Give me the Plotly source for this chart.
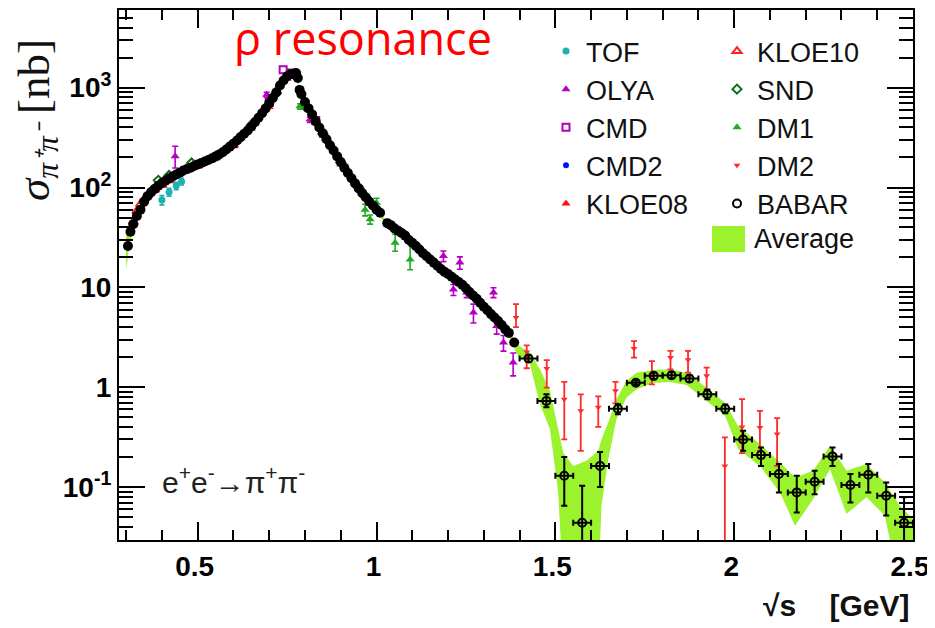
import plotly.graph_objects as go

# ---------------- data ----------------
# BABAR, dense region (sqrt(s) in GeV, sigma in nb)
babar_dense_x = [0.305, 0.312, 0.32, 0.33, 0.34, 0.35, 0.36, 0.37, 0.38, 0.39, 0.40, 0.41, 0.42, 0.43, 0.44,
                 0.45, 0.46, 0.47, 0.48, 0.49, 0.50, 0.51, 0.52, 0.53, 0.54, 0.55, 0.56, 0.57, 0.58, 0.59,
                 0.60, 0.61, 0.62, 0.63, 0.64, 0.65, 0.66, 0.67, 0.68, 0.69, 0.70, 0.71, 0.72, 0.73, 0.74,
                 0.75, 0.76, 0.77, 0.775, 0.78, 0.785, 0.79, 0.80, 0.81, 0.82, 0.83, 0.84, 0.85, 0.86, 0.87,
                 0.88, 0.89, 0.90, 0.91, 0.92, 0.93, 0.94, 0.95, 0.96, 0.97, 0.98, 0.99, 1.00, 1.01,
                 1.03, 1.04, 1.05, 1.06, 1.07, 1.08, 1.09, 1.10, 1.11, 1.12, 1.13, 1.14, 1.15, 1.16, 1.17,
                 1.18, 1.19, 1.20, 1.21, 1.22, 1.23, 1.24, 1.25, 1.26, 1.27, 1.28, 1.29, 1.30, 1.31, 1.32,
                 1.33, 1.34, 1.35, 1.36, 1.37, 1.385]
babar_dense_y = [26, 36, 43, 52, 60, 72, 82, 90, 97, 104, 111, 117, 123, 129, 135,
                 141, 148, 153, 158, 164, 170, 176, 182, 189, 196, 205, 214, 226, 240, 257,
                 275, 296, 320, 345, 372, 408, 450, 500, 555, 620, 700, 790, 900, 1050, 1180,
                 1300, 1360, 1380, 1400, 1250, 950, 860, 720, 620, 540, 460, 400, 350, 305, 265,
                 235, 205, 180, 158, 140, 124, 110, 98, 88, 80, 72, 66, 60, 56,
                 44, 42, 39, 37, 35, 33, 30, 28, 26, 24, 22, 20.5, 19, 17.7, 16.5,
                 15.3, 14.3, 13.6, 12.8, 12.0, 11.3, 10.6, 9.8, 9.0, 8.3, 7.7, 7.0, 6.4, 5.9, 5.4,
                 5.0, 4.6, 4.2, 3.8, 3.5, 2.8]

# BABAR, high-energy points with errors
babar_x = [1.425, 1.475, 1.525, 1.575, 1.625, 1.675, 1.725, 1.775, 1.825, 1.875, 1.925,
           1.975, 2.025, 2.075, 2.125, 2.175, 2.225, 2.275, 2.325, 2.375, 2.425, 2.475]
babar_y = [1.94, 0.73, 0.13, 0.044, 0.163, 0.61, 1.11, 1.30, 1.32, 1.22, 0.85,
           0.61, 0.30, 0.209, 0.135, 0.0885, 0.113, 0.203, 0.105, 0.133, 0.082, 0.044]
babar_up = [0.15, 0.12, 0.07, 0.059, 0.061, 0.066, 0.06, 0.10, 0.09, 0.09, 0.10,
            0.06, 0.066, 0.04, 0.035, 0.041, 0.033, 0.046, 0.03, 0.037, 0.029, 0.035]
babar_dn = [0.15, 0.10, 0.065, 0.043, 0.063, 0.073, 0.06, 0.10, 0.09, 0.09, 0.09,
            0.06, 0.069, 0.046, 0.047, 0.033, 0.028, 0.04, 0.035, 0.045, 0.03, 0.03]
babar_xerr = [0.025] * len(babar_x)

# DM2
dm2_x = [1.39, 1.42, 1.476, 1.525, 1.571, 1.62, 1.668, 1.72, 1.77, 1.822, 1.871, 1.923, 1.974, 2.022, 2.072, 2.12]
dm2_y = [5.0, 2.25, 1.54, 0.76, 0.58, 0.63, 0.92, 2.44, 1.35, 1.98, 1.88, 1.30, 0.163, 0.40, 0.395, 0.34]
dm2_up = [1.8, 0.38, 0.33, 0.37, 0.27, 0.18, 0.21, 0.46, 0.48, 0.33, 0.43, 0.27, 0.151, 0.36, 0.185, 0.15]
dm2_dn = [1.0, 0.70, 0.55, 0.46, 0.35, 0.23, 0.23, 0.46, 0.28, 0.47, 0.48, 0.36, 0.1629, 0.181, 0.165, 0.177]

# TOF
tof_x = [0.40, 0.42, 0.44, 0.455]
tof_y = [75, 90, 104, 115]
tof_err = [8, 8, 9, 9]

# OLYA
olya_x = [0.437, 0.660, 0.693, 0.814, 1.187, 1.215, 1.233, 1.252, 1.271, 1.327, 1.336, 1.355, 1.382]
olya_y = [206, 460, 851, 479, 20.6, 9.5, 17.7, 8.9, 5.6, 8.9, 4.1, 2.8, 1.77]
olya_up = [53, 30, 50, 30, 2.5, 1.2, 2.5, 1.0, 1.2, 1.0, 0.7, 0.5, 0.43]
olya_dn = [49, 30, 50, 30, 2.5, 1.2, 2.5, 1.0, 1.2, 1.0, 0.7, 0.5, 0.47]

# CMD
cmd_x = [0.70, 0.739, 0.76, 0.83]
cmd_y = [710, 1510, 1400, 470]

# CMD2
cmd2_x = [0.37, 0.60, 0.85, 1.05, 1.10, 1.15, 1.20, 1.25, 1.30, 1.336, 1.364]
cmd2_y = [93, 272, 350, 39, 27, 19.5, 13.6, 9.6, 6.4, 4.8, 3.5]

# KLOE08
kloe08_x = [0.60, 0.65, 0.70, 0.75, 0.80, 0.85, 0.90, 0.95]
kloe08_y = [260, 390, 640, 1230, 690, 330, 170, 100]

# KLOE10
kloe10_x = [0.32, 0.33, 0.34, 0.35, 0.36, 0.38, 0.40, 0.42, 0.45, 0.50, 0.55, 0.60]
kloe10_y = [45, 58, 68, 76, 84, 95, 106, 118, 140, 165, 200, 265]

# SND
snd_x = [0.39, 0.42, 0.483, 0.55, 0.65, 0.72, 0.80, 0.85, 0.90, 0.95, 0.97]
snd_y = [118, 132, 176, 205, 420, 880, 650, 345, 178, 100, 80]

# DM1
dm1_x = [0.786, 0.968, 0.982, 1.0, 1.052, 1.094]
dm1_y = [650, 60, 48, 70, 28, 19]
dm1_up = [40, 8, 5, 8, 6, 8]
dm1_dn = [40, 8, 5, 8, 5, 4]

# Average band (upper / lower edge)
avg_x = [0.30, 0.31, 0.33, 0.36, 0.40, 0.50, 0.60, 0.70, 0.76, 0.775, 0.785, 0.80, 0.90, 1.00, 1.02,
         1.04, 1.10, 1.20, 1.30, 1.37, 1.392, 1.429, 1.457, 1.485, 1.508, 1.522, 1.550, 1.587, 1.620,
         1.629, 1.648, 1.671, 1.699, 1.727, 1.774, 1.820, 1.867, 1.923, 1.974, 2.011, 2.072, 2.128,
         2.170, 2.221, 2.268, 2.314, 2.370, 2.421, 2.463, 2.500]
avg_hi = [34, 40, 55, 84, 115, 175, 280, 720, 1380, 1420, 980, 740, 185, 62, 50,
          44, 29, 14.3, 6.7, 3.8, 2.69, 2.22, 1.51, 0.92, 0.38, 0.222, 0.163, 0.183, 0.231,
          0.30, 0.443, 0.76, 1.16, 1.40, 1.49, 1.51, 1.40, 0.99, 0.70, 0.41, 0.27, 0.177,
          0.125, 0.146, 0.259, 0.146, 0.170, 0.111, 0.065, 0.048]
avg_lo = [15, 28, 47, 78, 106, 165, 268, 680, 1320, 1360, 900, 700, 175, 58, 46,
          40, 27, 13.0, 6.1, 3.3, 2.14, 1.70, 0.676, 0.38, 0.0885, 0.01, 0.01, 0.01, 0.01,
          0.065, 0.19, 0.48, 0.79, 0.955, 1.10, 1.13, 1.05, 0.73, 0.52, 0.24, 0.163, 0.0885,
          0.041, 0.076, 0.151, 0.054, 0.079, 0.052, 0.01, 0.01]

# tick labels
x_ticks = [0.5, 1.0, 1.5, 2.0, 2.5]
x_ticktext = ["0.5", "1", "1.5", "2", "2.5"]
y_ticks = [0.1, 1, 10, 100, 1000]
y_ticktext = ["10<sup>-1</sup>", "1", "10", "10<sup>2</sup>", "10<sup>3</sup>"]

# ---------------- figure ----------------
OFF = 8                      # page body margin of the html page
W, H = 935 - OFF, 628 - OFF
L, R, T, B = 119 - OFF, 22, 10 - OFF, 88
PW, PH = W - L - R, H - T - B


def px(xr):                  # reference-image x pixel -> paper x
    return (xr - OFF - L) / PW


def py(yr):                  # reference-image y pixel -> paper y
    return (H - B - (yr - OFF)) / PH


fig = go.Figure()

AVG_COL = "#9cf22c"
fig.add_trace(go.Scatter(
    x=avg_x + avg_x[::-1], y=avg_hi + avg_lo[::-1], fill="toself", fillcolor=AVG_COL,
    mode="lines", line=dict(width=0, color=AVG_COL), name="Average",
    showlegend=False, hoverinfo="skip"))

fig.add_trace(go.Scatter(x=tof_x, y=tof_y, mode="markers", name="TOF",
                         marker=dict(symbol="circle", size=7, color="#1fb0b0"),
                         error_y=dict(type="data", array=tof_err, thickness=1.6, width=2.5, color="#1fb0b0"),
                         legend="legend", legendrank=1))
fig.add_trace(go.Scatter(x=olya_x, y=olya_y, mode="markers", name="OLYA",
                         marker=dict(symbol="triangle-up", size=8, color="#b400c0"),
                         error_y=dict(type="data", symmetric=False, array=olya_up, arrayminus=olya_dn,
                                      thickness=1.6, width=3, color="#b400c0"),
                         legend="legend", legendrank=2))
fig.add_trace(go.Scatter(x=cmd_x, y=cmd_y, mode="markers", name="CMD",
                         marker=dict(symbol="square-open", size=7, color="#b000b8", line=dict(width=2)),
                         legend="legend", legendrank=3))
fig.add_trace(go.Scatter(x=cmd2_x, y=cmd2_y, mode="markers", name="CMD2",
                         marker=dict(symbol="circle", size=6, color="#0010ff"),
                         legend="legend", legendrank=4))
fig.add_trace(go.Scatter(x=kloe08_x, y=kloe08_y, mode="markers", name="KLOE08",
                         marker=dict(symbol="triangle-up", size=8, color="#ff1010"),
                         legend="legend", legendrank=5))
fig.add_trace(go.Scatter(x=kloe10_x, y=kloe10_y, mode="markers", name="KLOE10",
                         marker=dict(symbol="triangle-up-open", size=8, color="#ff2020", line=dict(width=2)),
                         legend="legend2", legendrank=1))
fig.add_trace(go.Scatter(x=snd_x, y=snd_y, mode="markers", name="SND",
                         marker=dict(symbol="diamond-open", size=7, color="#0b6a1a", line=dict(width=2)),
                         legend="legend2", legendrank=2))
fig.add_trace(go.Scatter(x=dm1_x, y=dm1_y, mode="markers", name="DM1",
                         marker=dict(symbol="triangle-up", size=8, color="#22aa22"),
                         error_y=dict(type="data", symmetric=False, array=dm1_up, arrayminus=dm1_dn,
                                      thickness=1.6, width=3, color="#22aa22"),
                         legend="legend2", legendrank=3))
fig.add_trace(go.Scatter(x=dm2_x, y=dm2_y, mode="markers", name="DM2",
                         marker=dict(symbol="triangle-down", size=6, color="#ff2a2a"),
                         error_y=dict(type="data", symmetric=False, array=dm2_up, arrayminus=dm2_dn,
                                      thickness=1.8, width=3, color="#ff2a2a"),
                         legend="legend2", legendrank=4))
fig.add_trace(go.Scatter(x=babar_dense_x, y=babar_dense_y, mode="markers", name="BABAR",
                         marker=dict(symbol="circle", size=10, color="#000000"),
                         showlegend=False, legend="legend2"))
fig.add_trace(go.Scatter(x=babar_x, y=babar_y, mode="markers", name="BABAR",
                         marker=dict(symbol="circle-open", size=8, color="#000000", line=dict(width=2)),
                         error_y=dict(type="data", symmetric=False, array=babar_up, arrayminus=babar_dn,
                                      thickness=2, width=3, color="#000000"),
                         error_x=dict(type="data", array=babar_xerr, thickness=2, width=3, color="#000000"),
                         legend="legend2", legendrank=5))

tickfont = dict(family="Liberation Sans", size=28, color="#000000", weight="bold")

fig.update_xaxes(
    type="linear", range=[0.28, 2.5], showline=True, linewidth=2, linecolor="black", mirror="ticks",
    ticks="inside", ticklen=18, tickwidth=2, tickcolor="black", ticklabelshift=-3,
    tickvals=x_ticks, ticktext=x_ticktext, tickfont=tickfont, showgrid=False, zeroline=False,
    minor=dict(ticks="inside", ticklen=10, tickwidth=2, tickcolor="black", showgrid=False,
               tickvals=[0.3, 0.4, 0.6, 0.7, 0.8, 0.9, 1.1, 1.2, 1.3, 1.4, 1.6, 1.7, 1.8, 1.9,
                         2.1, 2.2, 2.3, 2.4]),
)
yminor = [k * 10.0 ** d for d in range(-2, 4) for k in range(2, 10)]
fig.update_yaxes(
    type="log", range=[-1.53, 3.778], showline=True, linewidth=2, linecolor="black", mirror="ticks",
    ticks="inside", ticklen=26, tickwidth=2, tickcolor="black",
    tickvals=y_ticks, ticktext=y_ticktext, tickfont=tickfont, showgrid=False, zeroline=False,
    minor=dict(ticks="inside", ticklen=14, tickwidth=2, tickcolor="black", showgrid=False,
               tickvals=yminor),
)

legfont = dict(family="Liberation Sans", size=27, color="#111111")
fig.update_layout(
    width=W, height=H, margin=dict(l=L, r=R, t=T, b=B, autoexpand=False),
    paper_bgcolor="white", plot_bgcolor="white", showlegend=True,
    legend=dict(x=px(546), y=py(27), xanchor="left", yanchor="top", font=legfont,
                bgcolor="rgba(0,0,0,0)", tracegroupgap=0),
    legend2=dict(x=px(717), y=py(27), xanchor="left", yanchor="top", font=legfont,
                 bgcolor="rgba(0,0,0,0)", tracegroupgap=0),
    shapes=[
        dict(type="rect", xref="paper", yref="paper", x0=px(712), x1=px(745), y0=py(252), y1=py(226),
             fillcolor=AVG_COL, line=dict(width=0), layer="above"),
    ],
    annotations=[
        dict(text="Average", x=px(752), y=py(239), xref="paper", yref="paper",
             xanchor="left", yanchor="middle", showarrow=False, font=legfont),
        dict(text="ρ resonance", x=px(363), y=py(38), xref="paper", yref="paper",
             xanchor="center", yanchor="middle", showarrow=False,
             font=dict(family="Open Sans", size=45, color="#ff0000")),
        dict(text="<i>σ</i><sub><i>π⁺π⁻</i></sub> [nb]", x=px(37), y=py(120), xref="paper", yref="paper",
             xanchor="center", yanchor="middle", showarrow=False, textangle=-90,
             font=dict(family="Liberation Serif", size=45, color="#111111")),
        dict(text="e<sup>+</sup>e<sup>-</sup>→π<sup>+</sup>π<sup>-</sup>", x=px(233), y=py(480),
             xref="paper", yref="paper", xanchor="center", yanchor="middle", showarrow=False,
             font=dict(family="Liberation Sans", size=30, color="#222222")),
        dict(text="<b>√s    [GeV]</b>", x=px(912), y=py(605), xref="paper", yref="paper",
             xanchor="right", yanchor="middle", showarrow=False,
             font=dict(family="Liberation Sans", size=30, color="#111111")),
    ],
)

fig.write_html("out.html")
